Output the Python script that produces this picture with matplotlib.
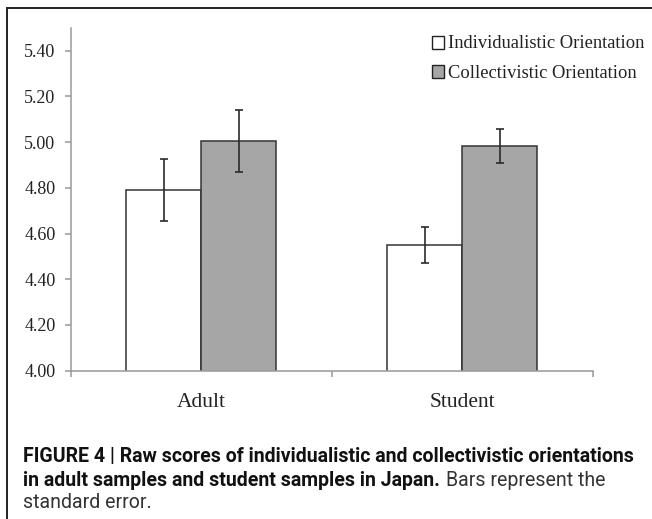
import matplotlib
matplotlib.use("Agg")
import matplotlib.pyplot as plt
import numpy as np
from matplotlib.lines import Line2D

categories = ["Adult", "Student"]
series_names = ["Individualistic Orientation", "Collectivistic Orientation"]
individualistic = [4.79, 4.55]
individualistic_err = [0.137, 0.078]
collectivistic = [5.005, 4.982]
collectivistic_err = [0.137, 0.073]
yticks = [4.00, 4.20, 4.40, 4.60, 4.80, 5.00, 5.20, 5.40]

W, H = 652, 519
fig = plt.figure(figsize=(W / 100, H / 100), dpi=100)
ax = fig.add_axes([70.7 / W, 1 - 370.7 / H, (593 - 70.7) / W, (370.7 - 27.7) / H])

x = np.arange(len(categories))
w = 0.287
ekw = dict(ecolor="#2b2b2b", elinewidth=1.2, capsize=3, capthick=1.2)
ax.bar(x - w/2, individualistic, w, bottom=0, color="white", edgecolor="#333333",
       linewidth=1.1, yerr=individualistic_err, error_kw=ekw, label=series_names[0], zorder=2)
ax.bar(x + w/2, collectivistic, w, bottom=0, color="#a6a6a6", edgecolor="#333333",
       linewidth=1.1, yerr=collectivistic_err, error_kw=ekw, label=series_names[1], zorder=2)

ax.set_ylim(4.0, 5.5)
ax.set_xlim(-0.5, 1.5)
ax.set_yticks(yticks)
ax.set_yticklabels([f"{v:.2f}" for v in yticks], fontfamily="Liberation Serif", fontsize=13,
                   color="#222222")
ax.set_xticks(x)
ax.set_xticklabels(categories, fontfamily="Liberation Serif", fontsize=15.5, color="#222222")
ax.tick_params(axis="x", length=0, pad=16)
ax.set_xticks([-0.5, 0.5, 1.5], minor=True)
ax.tick_params(axis="x", which="minor", length=4.5, color="#999999", width=1.1)
ax.tick_params(axis="y", length=4.5, color="#999999", width=1.1, pad=6.5)
for s in ["top", "right"]:
    ax.spines[s].set_visible(False)
for s in ["left", "bottom"]:
    ax.spines[s].set_color("#999999")
    ax.spines[s].set_linewidth(1.1)
ax.spines["bottom"].set_zorder(3)

leg = ax.legend(loc="upper left", bbox_to_anchor=(431.5 / W, 1 - 35.5 / H),
                bbox_transform=fig.transFigure, borderaxespad=0, borderpad=0,
                frameon=False, handlelength=0.7, handleheight=0.7, handletextpad=0.2,
                labelspacing=0.68, prop={"family": "Liberation Serif", "size": 13.3})
for h in leg.legend_handles:
    h.set_edgecolor("#222222")
    h.set_linewidth(1.0)
for t in leg.get_texts():
    t.set_color("#222222")

# frame lines (left and top)
fig.add_artist(Line2D([6.7 / W, 6.7 / W], [0.0, 1 - 8.3 / H], transform=fig.transFigure,
                      color="#222222", linewidth=1.4))
fig.add_artist(Line2D([6.7 / W, 1.0], [1 - 8.3 / H, 1 - 8.3 / H], transform=fig.transFigure,
                      color="#222222", linewidth=1.4))

cap_font = "Roboto"
x0 = 23 / W
line1 = "FIGURE 4 | Raw scores of individualistic and collectivistic orientations"
t1 = fig.text(x0, 1 - 456 / H, line1, fontfamily=cap_font, fontsize=13,
              fontweight="bold", va="center", color="#111111")
fig.canvas.draw()
r = fig.canvas.get_renderer()
wpx = t1.get_window_extent(r).width
fs = 13 * 614 / wpx
t1.set_fontsize(fs)

t2 = fig.text(x0, 1 - 480 / H, "in adult samples and student samples in Japan.",
              fontfamily=cap_font, fontsize=fs, fontweight="bold", va="center", color="#111111")
fig.text(x0, 1 - 503 / H, "standard error.", fontfamily=cap_font, fontsize=fs,
         va="center", color="#333333")
fig.canvas.draw()
bb = t2.get_window_extent(r)
fig.text((bb.x1 + 6) / W, 1 - 480 / H, "Bars represent the",
         fontfamily=cap_font, fontsize=fs, va="center", color="#333333")

fig.savefig("out.png", dpi=100)
